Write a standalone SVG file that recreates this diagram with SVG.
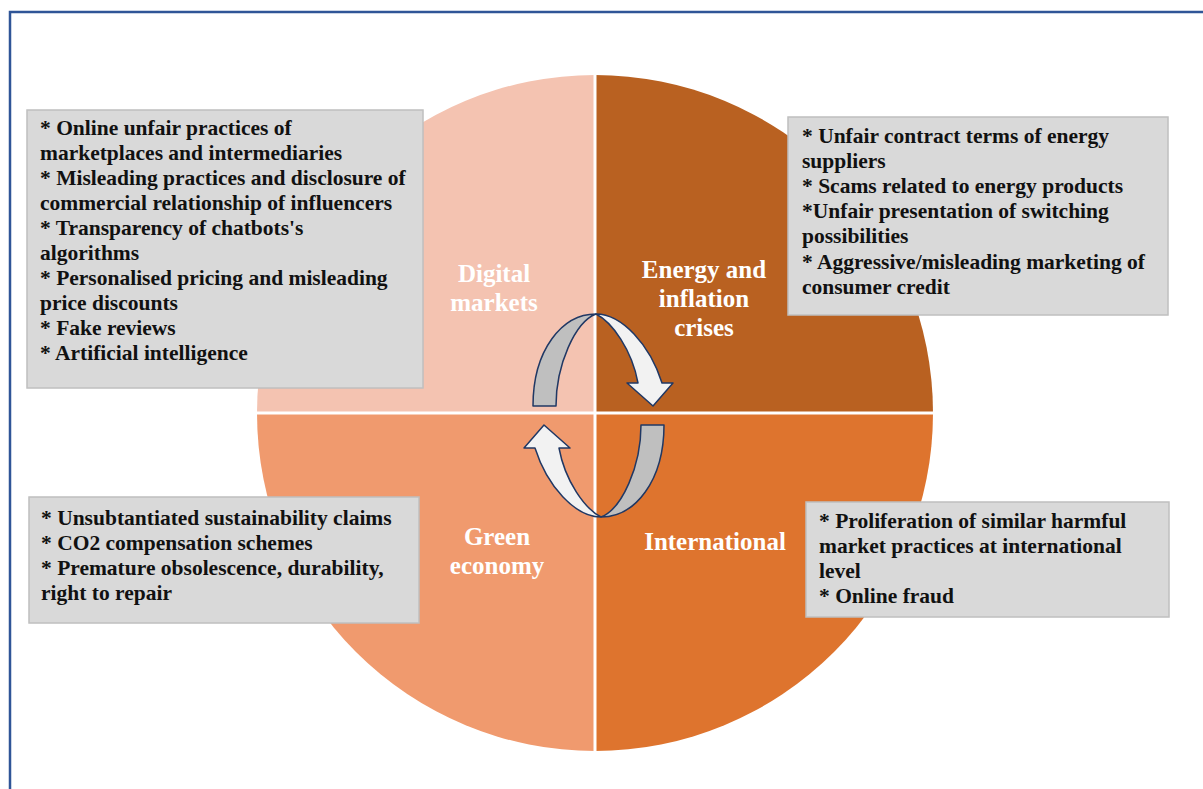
<svg xmlns="http://www.w3.org/2000/svg" width="1203" height="789" viewBox="0 0 1203 789">
  <style>
    .frame { fill: none; stroke: #2F5597; stroke-width: 2.5; }
    .divider { stroke: #FFFFFF; stroke-width: 3; }
    .box { fill: #D9D9D9; stroke: #BFBFBF; stroke-width: 1.5; }
    .item { font-family: "Liberation Serif", "Times New Roman", serif; font-weight: bold; font-size: 21.5px; fill: #111111; }
    .label { font-family: "Liberation Serif", "Times New Roman", serif; font-weight: bold; font-size: 25px; fill: #FFFFFF; text-anchor: middle; }
    .back { fill: #BFBFBF; stroke: #203864; stroke-width: 1.5; stroke-linejoin: round; }
    .front { fill: #F2F2F2; stroke: #203864; stroke-width: 1.5; stroke-linejoin: round; }
  </style>

  <!-- page frame -->
  <path class="frame" d="M10,789 V12 H1203"/>

  <!-- four quadrants of the circle -->
  <g id="quadrants">
    <path d="M595,413 V75 A338,338 0 0 0 257,413 Z" fill="#F4C3B1"/>
    <path d="M595,413 V75 A338,338 0 0 1 933,413 Z" fill="#B96121"/>
    <path d="M595,413 H257 A338,338 0 0 0 595,751 Z" fill="#F09A6E"/>
    <path d="M595,413 H933 A338,338 0 0 1 595,751 Z" fill="#DE742E"/>
    <line class="divider" x1="595" y1="74" x2="595" y2="752"/>
    <line class="divider" x1="256" y1="413" x2="934" y2="413"/>
  </g>

  <!-- quadrant titles -->
  <g id="digital-markets">
    <text class="label" x="494" y="282">Digital</text>
    <text class="label" x="494" y="311">markets</text>
  </g>
  <g id="energy-inflation">
    <text class="label" x="704" y="278">Energy and</text>
    <text class="label" x="704" y="307">inflation</text>
    <text class="label" x="704" y="336">crises</text>
  </g>
  <g id="green-economy">
    <text class="label" x="497" y="545">Green</text>
    <text class="label" x="497" y="574">economy</text>
  </g>
  <g id="international">
    <text class="label" x="715" y="550">International</text>
  </g>

  <!-- circular arrows in the centre -->
  <g id="connectors">
    <g id="arrow-top">
      <path class="back" d="M533,406 C533,350 562,314 596,314 C575,322 556,365 556,406 Z"/>
      <path class="front" d="M596,314 C622,314 650,345 662,383 L673,383 L653,406 L627,383 L638,383 C632,350 612,322 596,314 Z"/>
    </g>
    <g id="arrow-bottom" transform="rotate(180 598.5 415.5)">
      <path class="back" d="M533,406 C533,350 562,314 596,314 C575,322 556,365 556,406 Z"/>
      <path class="front" d="M596,314 C622,314 650,345 662,383 L673,383 L653,406 L627,383 L638,383 C632,350 612,322 596,314 Z"/>
    </g>
  </g>

  <!-- issue lists -->
  <g id="digital-issues">
    <rect class="box" x="27" y="110" width="396" height="278"/>
    <text class="item" x="40" y="135">* Online unfair practices of</text>
    <text class="item" x="40" y="160">marketplaces and intermediaries</text>
    <text class="item" x="40" y="185">* Misleading practices and disclosure of</text>
    <text class="item" x="40" y="210">commercial relationship of influencers</text>
    <text class="item" x="40" y="235">* Transparency of chatbots's</text>
    <text class="item" x="40" y="260">algorithms</text>
    <text class="item" x="40" y="285">* Personalised pricing and misleading</text>
    <text class="item" x="40" y="310">price discounts</text>
    <text class="item" x="40" y="335">* Fake reviews</text>
    <text class="item" x="40" y="360">* Artificial intelligence</text>
  </g>

  <g id="energy-issues">
    <rect class="box" x="788" y="117" width="380" height="198"/>
    <text class="item" x="802" y="143">* Unfair contract terms of energy</text>
    <text class="item" x="802" y="168">suppliers</text>
    <text class="item" x="802" y="193">* Scams related to energy products</text>
    <text class="item" x="802" y="218">*Unfair presentation of switching</text>
    <text class="item" x="802" y="243">possibilities</text>
    <text class="item" x="802" y="269">* Aggressive/misleading marketing of</text>
    <text class="item" x="802" y="294">consumer credit</text>
  </g>

  <g id="green-issues">
    <rect class="box" x="29" y="497" width="390" height="126"/>
    <text class="item" x="41" y="525">* Unsubtantiated sustainability claims</text>
    <text class="item" x="41" y="550">* CO2 compensation schemes</text>
    <text class="item" x="41" y="575">* Premature obsolescence, durability,</text>
    <text class="item" x="41" y="600">right to repair</text>
  </g>

  <g id="international-issues">
    <rect class="box" x="806" y="502" width="363" height="115"/>
    <text class="item" x="819" y="528">* Proliferation of similar harmful</text>
    <text class="item" x="819" y="553">market practices at international</text>
    <text class="item" x="819" y="578">level</text>
    <text class="item" x="819" y="603">* Online fraud</text>
  </g>
</svg>
